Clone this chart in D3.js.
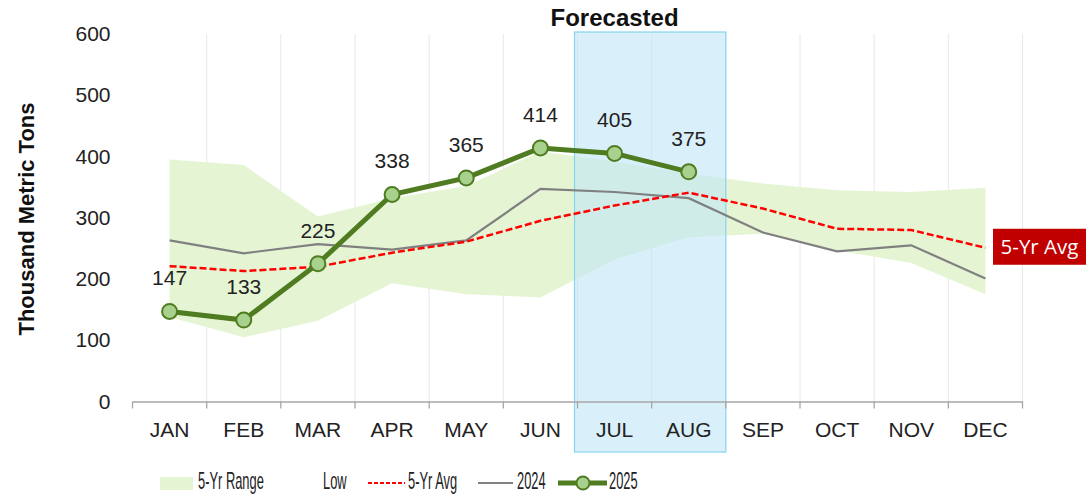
<!DOCTYPE html>
<html>
<head>
<meta charset="utf-8">
<script src="https://cdn.jsdelivr.net/npm/d3@7"></script>
<style>
  body { margin: 0; background: #fff; }
  svg { display: block; font-family: "Liberation Sans", Arial, sans-serif; }
</style>
</head>
<body>
<svg id="chart" width="1086" height="495"></svg>
<script>
const months = ["JAN", "FEB", "MAR", "APR", "MAY", "JUN", "JUL", "AUG", "SEP", "OCT", "NOV", "DEC"];
const yTicks = [0, 100, 200, 300, 400, 500, 600];
const rangeLow  = [138, 105, 132, 193, 175, 170, 232, 268, 274, 247, 226, 175];
const rangeHigh = [395, 386, 302, 332, 352, 408, 392, 372, 356, 345, 342, 349];
const avg5yr    = [221, 213, 220, 243, 261, 295, 320, 341, 315, 282, 280, 251];
const y2024     = [263, 242, 257, 248, 263, 347, 342, 332, 276, 245, 255, 201];
const y2025     = [147, 133, 225, 338, 365, 414, 405, 375];
const forecastMonths = ["JUL", "AUG"];

const svg = d3.select("#chart");
const x = d3.scaleBand(months, [132.5, 1022.5]);
const y = d3.scaleLinear([0, 600], [401.5, 34]);
const cx = m => x(m) + x.bandwidth() / 2;

// vertical gridlines at category boundaries
svg.append("g")
  .selectAll("line")
  .data(months)
  .join("line")
  .attr("x1", d => x(d) + x.bandwidth())
  .attr("x2", d => x(d) + x.bandwidth())
  .attr("y1", y(600))
  .attr("y2", y(0))
  .attr("stroke", "#e8e8e8")
  .attr("stroke-width", 1);

// 5-yr range band
const area = d3.area()
  .x((d, i) => cx(months[i]))
  .y0((d, i) => y(rangeLow[i]))
  .y1(d => y(d));
svg.append("path")
  .datum(rangeHigh)
  .attr("d", area)
  .attr("fill", "#e5f5d4");

// forecast box
const fx0 = x(forecastMonths[0]) - 3;
const fx1 = x(forecastMonths[1]) + x.bandwidth();
svg.append("rect")
  .attr("x", fx0)
  .attr("y", y(600) - 2)
  .attr("width", fx1 - fx0)
  .attr("height", 452 - (y(600) - 2))
  .attr("fill", "#bfe6f7")
  .attr("fill-opacity", 0.6)
  .attr("stroke", "#86d4ef")
  .attr("stroke-width", 1.2);

svg.append("text")
  .attr("x", cx(forecastMonths[0]))
  .attr("y", 26)
  .attr("text-anchor", "middle")
  .attr("font-size", 24)
  .attr("font-weight", "bold")
  .attr("fill", "#111")
  .text("Forecasted");

// x axis
const xAxis = d3.axisBottom(x).tickSize(0).tickPadding(21);
const gx = svg.append("g")
  .attr("transform", `translate(0,${y(0)})`)
  .call(xAxis);
gx.select(".domain").attr("stroke", "#a6a6a6").attr("stroke-width", 1.3);
gx.selectAll(".tick text").attr("font-size", 21).attr("fill", "#222")
  .attr("font-family", "\"Liberation Sans\", Arial, sans-serif");
gx.append("g")
  .selectAll("line")
  .data([months[0]].concat(months))
  .join("line")
  .attr("x1", (d, i) => i === 0 ? x(d) : x(d) + x.bandwidth())
  .attr("x2", (d, i) => i === 0 ? x(d) : x(d) + x.bandwidth())
  .attr("y1", 0)
  .attr("y2", 7)
  .attr("stroke", "#a6a6a6")
  .attr("stroke-width", 1.3);

// y axis
const yAxis = d3.axisLeft(y).tickValues(yTicks).tickSize(0).tickPadding(22);
const gy = svg.append("g")
  .attr("transform", "translate(132.5,0)")
  .call(yAxis);
gy.select(".domain").remove();
gy.selectAll(".tick text").attr("font-size", 21).attr("fill", "#222")
  .attr("font-family", "\"Liberation Sans\", Arial, sans-serif");

svg.append("text")
  .attr("transform", `translate(34,${219}) rotate(-90)`)
  .attr("text-anchor", "middle")
  .attr("font-size", 22)
  .attr("font-weight", "bold")
  .attr("fill", "#111")
  .text("Thousand Metric Tons");

// lines
const line = d3.line().x((d, i) => cx(months[i])).y(d => y(d));

svg.append("path")
  .datum(y2024)
  .attr("d", line)
  .attr("fill", "none")
  .attr("stroke", "#808080")
  .attr("stroke-width", 2.2);

svg.append("path")
  .datum(avg5yr)
  .attr("d", line)
  .attr("fill", "none")
  .attr("stroke", "#ff0000")
  .attr("stroke-width", 2.5)
  .attr("stroke-dasharray", "7,3");

svg.append("path")
  .datum(y2025)
  .attr("d", line)
  .attr("fill", "none")
  .attr("stroke", "#4f7c20")
  .attr("stroke-width", 5);

svg.append("g")
  .selectAll("circle")
  .data(y2025)
  .join("circle")
  .attr("cx", (d, i) => cx(months[i]))
  .attr("cy", d => y(d))
  .attr("r", 7.5)
  .attr("fill", "#a9d18e")
  .attr("stroke", "#4f7c20")
  .attr("stroke-width", 2);

svg.append("g")
  .selectAll("text")
  .data(y2025)
  .join("text")
  .attr("x", (d, i) => cx(months[i]))
  .attr("y", d => y(d) - 26)
  .attr("text-anchor", "middle")
  .attr("font-size", 21)
  .attr("fill", "#222")
  .text(d => d);

// 5-yr avg end label
const lastAvgY = y(avg5yr[avg5yr.length - 1]);
svg.append("rect")
  .attr("x", 993)
  .attr("y", lastAvgY - 19)
  .attr("width", 93)
  .attr("height", 36)
  .attr("fill", "#c00000");
svg.append("text")
  .attr("x", 1039.5)
  .attr("y", lastAvgY + 6)
  .attr("text-anchor", "middle")
  .attr("font-size", 20.5)
  .attr("font-family", "\"Open Sans\", sans-serif")
  .attr("fill", "#fff")
  .text("5-Yr Avg");

// legend (condensed text via horizontal scale)
const legendY = 483;
const lg = svg.append("g")
  .attr("font-size", 23)
  .attr("fill", "#222");
const legendText = (tx, label) => lg.append("text")
  .attr("transform", `translate(${tx},${legendY + 6}) scale(0.56,1)`)
  .text(label);

lg.append("rect").attr("x", 160).attr("y", legendY - 6).attr("width", 33).attr("height", 13).attr("fill", "#e5f5d4");
legendText(198, "5-Yr Range");

legendText(323, "Low");

lg.append("line").attr("x1", 368).attr("x2", 405).attr("y1", legendY).attr("y2", legendY)
  .attr("stroke", "#ff0000").attr("stroke-width", 2.2).attr("stroke-dasharray", "4,2");
legendText(408, "5-Yr Avg");

lg.append("line").attr("x1", 478).attr("x2", 513).attr("y1", legendY).attr("y2", legendY)
  .attr("stroke", "#808080").attr("stroke-width", 2.2);
legendText(517, "2024");

lg.append("line").attr("x1", 558).attr("x2", 607).attr("y1", legendY).attr("y2", legendY)
  .attr("stroke", "#4f7c20").attr("stroke-width", 5);
lg.append("circle").attr("cx", 583).attr("cy", legendY).attr("r", 6.5)
  .attr("fill", "#a9d18e").attr("stroke", "#4f7c20").attr("stroke-width", 2);
legendText(609, "2025");
</script>
</body>
</html>
